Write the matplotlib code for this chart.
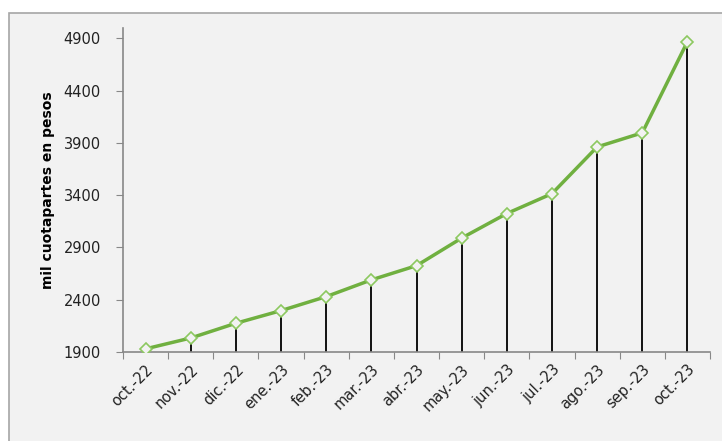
import matplotlib
matplotlib.use("Agg")
import matplotlib.pyplot as plt
from matplotlib.patches import Rectangle

categories = ["oct.-22", "nov.-22", "dic.-22", "ene.-23", "feb.-23", "mar.-23", "abr.-23",
              "may.-23", "jun.-23", "jul.-23", "ago.-23", "sep.-23", "oct.-23"]
values = [1930, 2034, 2175, 2296, 2430, 2590, 2726, 2990, 3225, 3415, 3862, 3997, 4869]
yticks = [1900, 2400, 2900, 3400, 3900, 4400, 4900]

W, H = 722, 441
fig = plt.figure(figsize=(W / 100, H / 100), dpi=100, facecolor="white")
fig.patches.append(Rectangle((9 / W, -0.05), 1.1, (H - 13) / H + 0.05, transform=fig.transFigure,
                             facecolor="#f2f2f2", edgecolor="#a6a6a6", linewidth=1.2, zorder=-5))

ax = fig.add_axes([123 / W, (H - 352) / H, (710 - 123) / W, (352 - 28) / H])
ax.set_zorder(5)
ax.set_facecolor("none")
x = list(range(len(categories)))
ax.vlines(x, 1900, values, color="black", linewidth=1.3, zorder=2)
ax.plot(x, values, color="#70b040", linewidth=2.5, marker="D", markersize=6,
        markerfacecolor="#f2f2f2", markeredgecolor="#8cc860", markeredgewidth=1.2, zorder=3)

ax.set_xlim(-0.5, len(categories) - 0.5)
ax.set_ylim(1900, 5000)
ax.set_yticks(yticks)
ax.set_yticklabels([str(v) for v in yticks], fontsize=10.5, color="#222222")
ax.set_xticks([i - 0.5 for i in range(len(categories) + 1)])
ax.set_xticklabels([])
ax.set_xticks(x, minor=True)
ax.set_xticklabels(categories, minor=True, rotation=45, ha="right", va="top",
                   rotation_mode="anchor", fontsize=10.5, color="#222222")
ax.tick_params(axis="x", which="minor", length=0, pad=7)
ax.tick_params(axis="x", which="major", length=5, color="#888888", direction="out")
ax.tick_params(axis="y", length=5, color="#888888", direction="out", pad=11)
for s in ["top", "right"]:
    ax.spines[s].set_visible(False)
for s in ["left", "bottom"]:
    ax.spines[s].set_color("#888888")
    ax.spines[s].set_linewidth(1.2)
ax.set_ylabel("mil cuotapartes en pesos", fontsize=10, fontweight="bold", labelpad=6)

fig.savefig("out.png", dpi=100, facecolor="white")
